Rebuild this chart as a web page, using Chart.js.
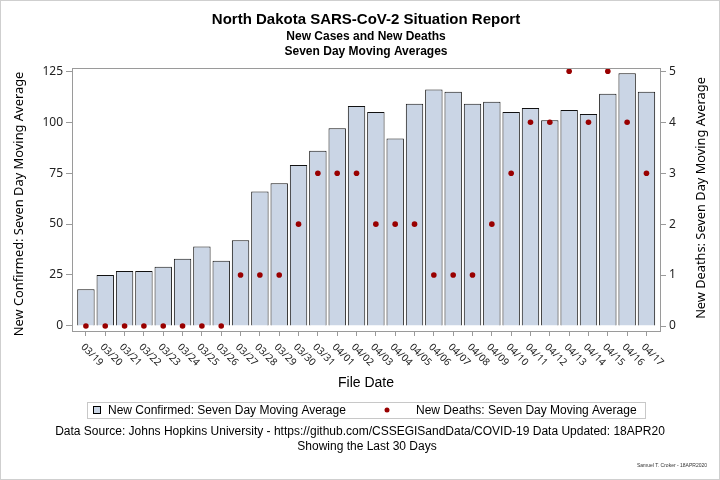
<!DOCTYPE html>
<html>
<head>
<meta charset="utf-8">
<script src="https://cdn.jsdelivr.net/npm/chart.js@4/dist/chart.umd.min.js"></script>
<style>
  html, body { margin: 0; padding: 0; background: #fff; }
</style>
</head>
<body>
<canvas id="myChart" width="720" height="480"></canvas>
<script>
const fileDates = ["03/19", "03/20", "03/21", "03/22", "03/23", "03/24", "03/25", "03/26", "03/27", "03/28",
  "03/29", "03/30", "03/31", "04/01", "04/02", "04/03", "04/04", "04/05", "04/06", "04/07",
  "04/08", "04/09", "04/10", "04/11", "04/12", "04/13", "04/14", "04/15", "04/16", "04/17"];
const newConfirmed = [18, 25, 27, 27, 29, 33, 39, 32, 42, 66,
  70, 79, 86, 97, 108, 105, 92, 109, 116, 115,
  109, 110, 105, 107, 101, 106, 104, 114, 124, 115];
const newDeaths = [0, 0, 0, 0, 0, 0, 0, 0, 1, 1,
  1, 2, 3, 3, 3, 2, 2, 2, 1, 1,
  1, 2, 3, 4, 4, 5, 4, 5, 4, 3];
const confirmedTicks = [0, 25, 50, 75, 100, 125];
const deathTicks = [0, 1, 2, 3, 4, 5];

const titleLines = ["North Dakota SARS-CoV-2 Situation Report", "New Cases and New Deaths", "Seven Day Moving Averages"];
const footLines = ["Data Source: Johns Hopkins University - https://github.com/CSSEGISandData/COVID-19 Data Updated: 18APR20",
  "Showing the Last 30 Days"];
const signature = "Samuel T. Croker - 18APR2020";
const leftTitle = "New Confirmed: Seven Day Moving Average";
const rightTitle = "New Deaths: Seven Day Moving Average";

const barFill = "#cad5e5";
const dotColor = "#990000";
const axisGray = "#9a9a9a";
const sans = "'Liberation Sans', Arial, sans-serif";
const uiFont = "'Noto Sans', 'Open Sans', sans-serif";

// font size that makes text come out at the given width
function fitSize(ctx, text, family, width) {
  ctx.font = "12px " + family;
  return 12 * width / ctx.measureText(text).width;
}

function upwardText(ctx, text, x, y, width) {
  ctx.save();
  ctx.font = fitSize(ctx, text, uiFont, width).toFixed(2) + "px " + uiFont;
  ctx.translate(x, y);
  ctx.rotate(-Math.PI / 2);
  ctx.textAlign = "center";
  ctx.textBaseline = "middle";
  ctx.fillStyle = "#000";
  ctx.fillText(text, 0, 0);
  ctx.restore();
}

// frame, titles, rotated date labels, legend and footnotes
const decorations = {
  id: "decorations",
  afterDraw(chart) {
    const ctx = chart.ctx;
    const area = chart.chartArea;
    const xs = chart.scales.x;
    ctx.save();

    // outer border
    ctx.strokeStyle = "#cfcfcf";
    ctx.lineWidth = 1;
    ctx.strokeRect(0.5, 0.5, 719, 479);

    // plot frame
    ctx.strokeStyle = axisGray;
    ctx.strokeRect(Math.round(area.left) + 0.5, Math.round(area.top) + 0.5,
      Math.round(area.right - area.left), Math.round(area.bottom - area.top));

    // titles
    const cx = (area.left + area.right) / 2;
    ctx.fillStyle = "#000";
    ctx.textAlign = "center";
    ctx.textBaseline = "middle";
    ctx.font = "bold 15px " + sans;
    ctx.fillText(titleLines[0], cx, 20);
    ctx.font = "bold 12px " + sans;
    ctx.fillText(titleLines[1], cx, 37);
    ctx.fillText(titleLines[2], cx, 52);

    // date labels, slanted down to the right
    ctx.font = "10px " + uiFont;
    ctx.fillStyle = "#222";
    ctx.textAlign = "left";
    fileDates.forEach((d, i) => {
      const px = xs.getPixelForValue(i);
      ctx.save();
      ctx.translate(px - 3.5, 345.5);
      ctx.rotate(Math.PI / 4);
      ctx.fillText(d, 0, 0);
      ctx.restore();
    });

    // axis titles, both reading upward
    upwardText(ctx, leftTitle, 19.5, 204, 265);
    upwardText(ctx, rightTitle, 701, 198, 242);

    // legend
    const ds = chart.data.datasets;
    ctx.strokeStyle = "#c8c8c8";
    ctx.strokeRect(87.5, 402.5, 558, 16);
    ctx.fillStyle = barFill;
    ctx.fillRect(93.5, 406.5, 7, 7);
    ctx.strokeStyle = "#000";
    ctx.strokeRect(93.5, 406.5, 7, 7);
    ctx.fillStyle = dotColor;
    ctx.beginPath();
    ctx.arc(387, 410, 2.5, 0, Math.PI * 2);
    ctx.fill();
    ctx.fillStyle = "#000";
    ctx.font = "12px " + sans;
    ctx.textAlign = "left";
    ctx.fillText(ds[0].label, 108, 410.5);
    ctx.fillText(ds[1].label, 416, 410.5);

    // footnotes
    ctx.textAlign = "center";
    ctx.font = "12px " + sans;
    ctx.fillText(footLines[0], 360, 432);
    ctx.fillText(footLines[1], 367, 447);
    ctx.textAlign = "right";
    ctx.font = "5px " + sans;
    ctx.fillStyle = "#333";
    ctx.fillText(signature, 707, 466);

    ctx.restore();
  }
};

new Chart("myChart", {
  type: "bar",
  data: {
    datasets: [
      {
        type: "bar",
        label: "New Confirmed: Seven Day Moving Average",
        data: newConfirmed.map((v, i) => ({ x: i, y: v })),
        backgroundColor: barFill,
        borderColor: "#111",
        borderWidth: 1,
        barPercentage: 0.9,
        categoryPercentage: 1,
        yAxisID: "y",
        order: 2,
      },
      {
        type: "line",
        label: "New Deaths: Seven Day Moving Average",
        data: newDeaths.map((v, i) => ({ x: i, y: v })),
        showLine: false,
        pointRadius: 2.8,
        pointBackgroundColor: dotColor,
        pointBorderColor: dotColor,
        pointBorderWidth: 0,
        yAxisID: "y2",
        order: 1,
        clip: false,
      },
    ],
  },
  options: {
    responsive: false,
    animation: false,
    devicePixelRatio: 1,
    layout: { padding: { top: 68, left: 8, right: 8, bottom: 0 } },
    plugins: {
      legend: { display: false },
      title: { display: false },
      tooltip: { enabled: false },
    },
    scales: {
      x: {
        type: "linear",
        offset: false,
        min: -0.72,
        max: 29.7,
        afterBuildTicks: (axis) => {
          axis.ticks = fileDates.map((d, i) => ({ value: i }));
        },
        afterFit: (axis) => { axis.height = 149; },
        ticks: { display: false },
        grid: { offset: false, drawOnChartArea: false, drawTicks: true, tickLength: 5, tickColor: axisGray },
        border: { color: axisGray },
        title: {
          display: true,
          text: "File Date",
          color: "#000",
          font: { family: sans, size: 14 },
          padding: { top: 0, bottom: 88 },
        },
      },
      y: {
        position: "left",
        min: -2.5,
        max: 126.6,
        afterBuildTicks: (axis) => {
          axis.ticks = confirmedTicks.map((v) => ({ value: v }));
        },
        afterFit: (axis) => { axis.width = 64; },
        ticks: { color: "#222", padding: 3, font: { family: uiFont, size: 12 } },
        grid: { drawOnChartArea: false, drawTicks: true, tickLength: 6, tickColor: axisGray },
        border: { color: axisGray },
      },
      y2: {
        position: "right",
        min: -0.098,
        max: 5.065,
        afterBuildTicks: (axis) => {
          axis.ticks = deathTicks.map((v) => ({ value: v }));
        },
        afterFit: (axis) => { axis.width = 52; },
        ticks: { color: "#222", padding: 3, font: { family: uiFont, size: 12 } },
        grid: { drawOnChartArea: false, drawTicks: true, tickLength: 6, tickColor: axisGray },
        border: { color: axisGray },
      },
    },
  },
  plugins: [decorations],
});
</script>
</body>
</html>
